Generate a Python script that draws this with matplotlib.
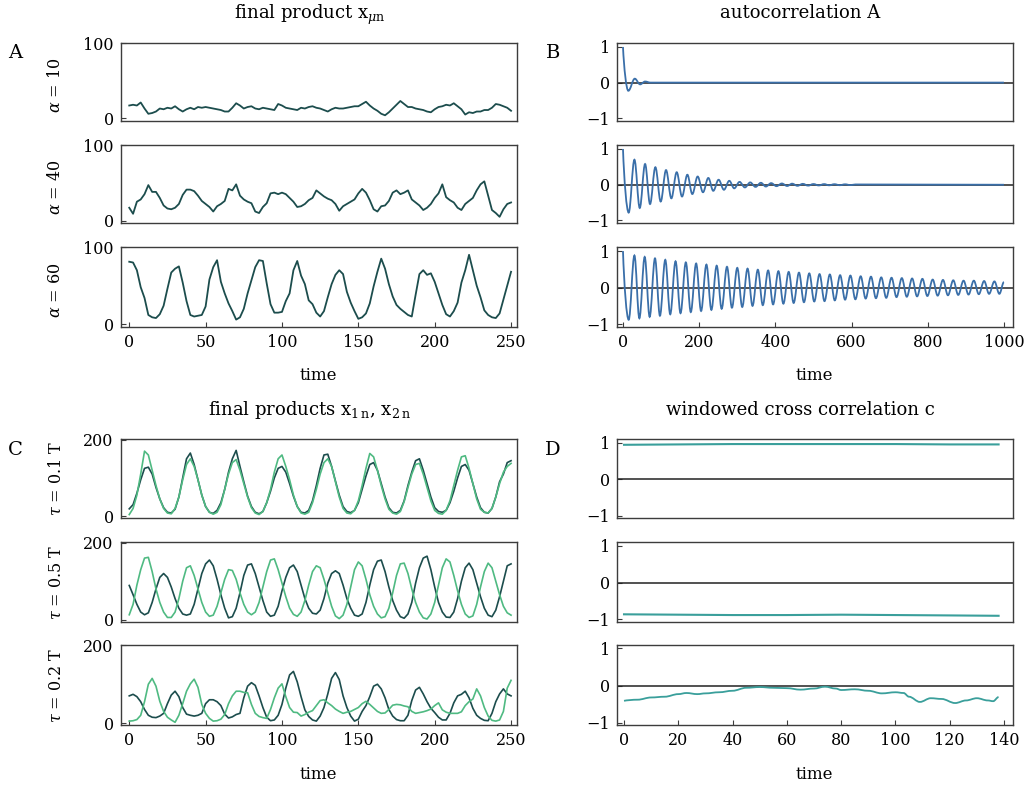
import numpy as np
import matplotlib
matplotlib.use("Agg")
import matplotlib.pyplot as plt
from matplotlib.path import Path
from matplotlib.patches import PathPatch

plt.rcParams['font.family'] = 'DejaVu Serif'
plt.rcParams['mathtext.fontset'] = 'dejavuserif'

# ---------------- data ----------------
t_grid = np.linspace(0, 250, 101)

# final product, three coupling strengths
x_alpha10 = [17, 18, 17, 21, 13, 6, 7, 9, 13, 12,
             14, 13, 16, 12, 9, 12, 14, 12, 15, 14,
             15, 14, 13, 12, 11, 9, 9, 14, 20, 17,
             13, 15, 16, 13, 12, 14, 13, 12, 11, 19,
             17, 14, 13, 12, 11, 14, 13, 15, 16, 14,
             13, 11, 9, 12, 14, 13, 13, 14, 15, 16,
             16, 19, 22, 17, 13, 10, 6, 4, 8, 13,
             18, 23, 19, 15, 15, 13, 12, 11, 9, 8,
             12, 15, 16, 18, 17, 20, 16, 12, 5, 8,
             7, 9, 9, 11, 11, 14, 19, 18, 16, 14,
             10]
x_alpha40 = [17, 9, 25, 28, 35, 47, 38, 38, 30, 20,
             16, 15, 17, 22, 34, 41, 41, 39, 33, 26,
             22, 18, 12, 19, 22, 26, 42, 40, 48, 33,
             28, 25, 23, 12, 10, 18, 23, 36, 37, 35,
             37, 35, 30, 25, 18, 19, 22, 27, 30, 40,
             36, 32, 29, 27, 22, 13, 19, 22, 25, 28,
             36, 42, 37, 27, 15, 12, 19, 20, 26, 37,
             40, 35, 37, 40, 28, 24, 20, 14, 17, 22,
             30, 36, 48, 31, 27, 24, 17, 14, 22, 26,
             30, 40, 48, 52, 33, 14, 10, 5, 15, 22,
             24]
x_alpha60 = [81, 80, 70, 48, 34, 12, 9, 8, 13, 24,
             46, 67, 72, 75, 54, 30, 12, 10, 11, 12,
             23, 58, 74, 83, 55, 40, 27, 17, 6, 9,
             20, 40, 57, 74, 83, 82, 53, 26, 15, 15,
             16, 30, 40, 70, 82, 63, 52, 31, 26, 15,
             10, 17, 35, 52, 64, 70, 65, 42, 28, 17,
             7, 9, 14, 27, 49, 68, 85, 72, 52, 36,
             25, 20, 16, 12, 10, 38, 65, 70, 64, 66,
             55, 40, 25, 13, 10, 17, 28, 54, 70, 90,
             70, 50, 35, 18, 12, 9, 8, 14, 32, 50,
             68]

# autocorrelation extrema (lag, value)
ac10_t = [0, 14, 31, 45, 58, 72, 1000]
ac10_v = [1.0, -0.23, 0.11, -0.05, 0.03, 0.0, 0.0]
ac40_t = [0, 15, 30, 44, 58, 71, 85, 99, 113, 127, 141, 155, 169, 182, 196,
          210, 224, 237, 251, 265, 279, 292, 306, 320, 334, 348, 362, 375,
          389, 403, 417, 431, 444, 458, 472, 486, 500, 514, 528, 541, 555,
          569, 583, 597, 610, 1000]
ac40_v = [1.0, -0.78, 0.70, -0.65, 0.58, -0.54, 0.49, -0.47, 0.41, -0.38,
          0.35, -0.33, 0.28, -0.26, 0.23, -0.21, 0.19, -0.17, 0.14, -0.14,
          0.11, -0.10, 0.08, -0.075, 0.065, -0.06, 0.055, -0.05, 0.045,
          -0.04, 0.035, -0.035, 0.03, -0.03, 0.025, -0.025, 0.02, -0.02,
          0.018, -0.016, 0.015, -0.013, 0.012, -0.01, 0.008, 0.0]
ac60_t = [0, 15, 30, 43, 57, 70, 84, 97, 111, 124, 138, 151, 165, 178, 192,
          205, 219, 232, 246, 259, 273, 286, 300, 313, 327, 340, 354, 367,
          381, 394, 408, 421, 435, 448, 462, 475, 489, 502, 516, 529, 543,
          556, 570, 583, 597, 610, 624, 637, 651, 664, 678, 691, 705, 718,
          732, 745, 759, 772, 786, 799, 813, 826, 840, 853, 867, 880, 894,
          907, 921, 934, 948, 961, 975, 988, 1000]
ac60_v = [1.0, -0.88, 0.88, -0.84, 0.84, -0.80, 0.80, -0.77, 0.76, -0.73,
          0.72, -0.70, 0.69, -0.67, 0.66, -0.64, 0.63, -0.61, 0.60, -0.58,
          0.57, -0.55, 0.54, -0.53, 0.52, -0.50, 0.49, -0.48, 0.47, -0.46,
          0.45, -0.44, 0.43, -0.42, 0.41, -0.40, 0.39, -0.38, 0.37, -0.37,
          0.36, -0.35, 0.34, -0.33, 0.33, -0.32, 0.31, -0.30, 0.30, -0.29,
          0.28, -0.28, 0.27, -0.26, 0.26, -0.25, 0.25, -0.24, 0.24, -0.23,
          0.22, -0.22, 0.21, -0.21, 0.20, -0.20, 0.19, -0.19, 0.19, -0.18,
          0.18, -0.17, 0.17, -0.17, 0.15]

# two final products for three delays
x1_tau01 = [19, 30, 60, 95, 125, 128, 110, 75, 45, 22,
            10, 8, 18, 50, 100, 150, 165, 135, 95, 55,
            25, 10, 7, 15, 35, 70, 115, 150, 172, 130,
            90, 52, 25, 10, 6, 12, 35, 65, 100, 125,
            130, 115, 85, 52, 25, 10, 8, 15, 40, 80,
            125, 160, 162, 130, 92, 55, 25, 12, 9, 15,
            35, 70, 105, 135, 140, 120, 85, 50, 22, 10,
            8, 15, 40, 80, 115, 145, 150, 120, 85, 50,
            22, 12, 10, 15, 35, 65, 100, 130, 135, 120,
            85, 50, 22, 10, 8, 20, 50, 90, 110, 140,
            145]
x2_tau01 = [4, 20, 55, 110, 170, 160, 120, 80, 45, 20,
            8, 6, 20, 50, 95, 135, 150, 130, 95, 55,
            25, 10, 5, 10, 30, 70, 110, 140, 148, 120,
            85, 50, 22, 8, 4, 12, 35, 70, 115, 150,
            160, 130, 95, 55, 25, 8, 5, 10, 35, 70,
            110, 140, 150, 130, 90, 50, 20, 8, 6, 15,
            40, 80, 125, 164, 155, 120, 80, 45, 18, 8,
            5, 12, 38, 75, 110, 135, 138, 110, 75, 40,
            15, 7, 5, 15, 40, 80, 120, 155, 158, 125,
            85, 45, 18, 10, 8, 20, 50, 85, 115, 130,
            138]
x1_tau05 = [89, 65, 40, 20, 13, 18, 45, 80, 110, 120,
            110, 85, 55, 30, 15, 12, 15, 40, 80, 120,
            145, 155, 140, 105, 65, 30, 5, 8, 30, 70,
            115, 142, 145, 120, 85, 50, 20, 9, 12, 35,
            75, 110, 135, 142, 125, 90, 55, 30, 17, 15,
            25, 55, 95, 120, 127, 120, 90, 55, 30, 12,
            9, 15, 45, 90, 130, 152, 155, 125, 85, 50,
            25, 8, 4, 15, 45, 95, 135, 160, 165, 130,
            85, 45, 20, 7, 6, 20, 55, 100, 135, 147,
            130, 95, 60, 30, 12, 8, 25, 60, 100, 140,
            145]
x2_tau05 = [13, 40, 90, 130, 160, 162, 125, 80, 45, 20,
            6, 6, 20, 55, 100, 135, 140, 115, 80, 45,
            20, 9, 12, 35, 70, 105, 130, 128, 105, 70,
            40, 20, 13, 20, 45, 85, 125, 155, 158, 130,
            95, 60, 30, 14, 9, 20, 50, 90, 125, 140,
            135, 105, 70, 35, 10, 3, 12, 40, 85, 130,
            150, 140, 105, 65, 35, 15, 5, 8, 30, 70,
            115, 145, 147, 120, 80, 45, 20, 5, 2, 15,
            45, 90, 135, 158, 150, 115, 75, 40, 15, 6,
            10, 40, 85, 125, 147, 135, 100, 65, 35, 18,
            12]
x1_tau02 = [70, 74, 68, 55, 35, 20, 15, 14, 18, 25,
            50, 72, 82, 68, 40, 23, 20, 18, 20, 25,
            50, 60, 60, 55, 45, 23, 13, 16, 22, 25,
            65, 95, 104, 97, 70, 40, 15, 6, 8, 20,
            48, 90, 124, 133, 106, 68, 34, 17, 8, 5,
            18, 40, 75, 115, 130, 112, 70, 40, 18, 5,
            10, 30, 45, 68, 95, 100, 88, 65, 35, 18,
            9, 6, 6, 20, 58, 85, 92, 75, 55, 38,
            27, 15, 8, 8, 25, 52, 70, 74, 82, 65,
            38, 20, 12, 7, 6, 25, 55, 75, 88, 75,
            70]
x2_tau02 = [5, 6, 9, 20, 55, 100, 115, 95, 56, 30,
            15, 8, 2, 20, 50, 82, 101, 113, 92, 48,
            25, 12, 5, 6, 10, 22, 50, 70, 82, 82,
            79, 78, 48, 25, 17, 14, 12, 35, 65, 90,
            101, 68, 40, 28, 27, 18, 22, 28, 32, 45,
            58, 60, 52, 45, 36, 30, 25, 28, 30, 35,
            40, 50, 56, 48, 39, 30, 25, 26, 35, 46,
            48, 47, 44, 42, 30, 25, 27, 29, 32, 36,
            45, 52, 34, 28, 25, 25, 25, 29, 45, 55,
            62, 88, 70, 40, 18, 7, 5, 8, 30, 90,
            110]

# windowed cross correlation
cc_t_flat = [0, 20, 40, 60, 80, 100, 120, 138]
cc_tau01 = [0.94, 0.95, 0.96, 0.96, 0.96, 0.96, 0.95, 0.95]
cc_tau05 = [-0.86, -0.87, -0.88, -0.88, -0.87, -0.88, -0.89, -0.90]
cc_t = [0, 5, 10, 15, 20, 23, 27, 30, 35, 40, 45, 50, 55, 60, 65, 70, 74,
        78, 80, 85, 90, 95, 100, 103, 105, 109, 113, 117, 122, 126, 130,
        134, 136, 138]
cc_tau02 = [-0.41, -0.38, -0.32, -0.30, -0.23, -0.20, -0.23, -0.21, -0.18,
            -0.14, -0.06, -0.04, -0.06, -0.07, -0.11, -0.08, -0.03, -0.08,
            -0.12, -0.10, -0.14, -0.21, -0.18, -0.20, -0.30, -0.44, -0.34,
            -0.36, -0.47, -0.40, -0.34, -0.40, -0.42, -0.31]

alpha_labels = [r"$\alpha$ = 10", r"$\alpha$ = 40", r"$\alpha$ = 60"]
tau_labels = [r"$\tau$ = 0.1 T", r"$\tau$ = 0.5 T", r"$\tau$ = 0.2 T"]

DARK = '#1c4d4d'
LIGHT = '#4fba82'
BLUE = '#3a6fa9'
TEAL = '#3a9f9b'
FRAME = '#3c3c3c'

W, H = 1027, 787
fig = plt.figure(figsize=(W / 100, H / 100), dpi=100)


def box(left, top, right, bottom):
    return fig.add_axes([left / W, 1 - bottom / H, (right - left) / W, (bottom - top) / H])


def style(ax, xticks, yticks, bottom_row):
    for s in ax.spines.values():
        s.set_color(FRAME)
        s.set_linewidth(1.0)
    ax.set_yticks(yticks)
    ax.tick_params(direction='in', length=3.5, width=0.8, labelsize=11.5,
                   pad=5, color=FRAME)
    if bottom_row:
        ax.set_xticks(xticks)
        ax.set_xlabel('time', fontsize=12, labelpad=12)
    else:
        ax.set_xticks([])


def smooth(ax, ts, vs, color):
    # cubic segments between extrema, flat tangents at each turning point;
    # the zero-lag point is a cusp, so the first segment leaves along the chord
    verts = [(ts[0], vs[0])]
    codes = [Path.MOVETO]
    for i in range(1, len(ts)):
        dt = ts[i] - ts[i - 1]
        if i == 1:
            c1 = (ts[0] + 0.2 * dt, vs[0] + 0.5 * (vs[1] - vs[0]))
        else:
            c1 = (ts[i - 1] + 0.363 * dt, vs[i - 1])
        verts += [c1, (ts[i] - 0.363 * dt, vs[i]), (ts[i], vs[i])]
        codes += [Path.CURVE4] * 3
    ax.add_patch(PathPatch(Path(verts, codes), fill=False, edgecolor=color,
                           lw=1.3, zorder=3))


rows_top = [(42.7, 120.7), (144.7, 223.0), (246.7, 326.7)]
rows_bot = [(439.3, 518.0), (542.3, 621.7), (645.0, 725.0)]
LX = (120.7, 516.7)
RX = (616.7, 1012.7)

# panel A
for i, (ys, lab) in enumerate(zip([x_alpha10, x_alpha40, x_alpha60], alpha_labels)):
    top, bot = rows_top[i]
    ax = box(LX[0], top, LX[1], bot)
    ax.plot(t_grid, ys, color=DARK, lw=1.3)
    ax.set_xlim(-5.6, 253.7)
    ax.set_ylim(-3.2, 100.5)
    style(ax, [0, 50, 100, 150, 200, 250], [0, 100], i == 2)
    fig.text(56 / W, 1 - ((top + bot) / 2 + 3) / H, lab, rotation=90,
             ha='center', va='center', fontsize=11.5)

# panel B
for i, (ts, vs) in enumerate([(ac10_t, ac10_v), (ac40_t, ac40_v), (ac60_t, ac60_v)]):
    top, bot = rows_top[i]
    ax = box(RX[0], top, RX[1], bot)
    ax.axhline(0, color='#222222', lw=1.1, zorder=2)
    smooth(ax, ts, vs, BLUE)
    ax.set_xlim(-16.5, 1023)
    ax.set_ylim(-1.07, 1.12)
    style(ax, [0, 200, 400, 600, 800, 1000], [-1, 0, 1], i == 2)

# panel C
pairs = [(x1_tau01, x2_tau01), (x1_tau05, x2_tau05), (x1_tau02, x2_tau02)]
for i, ((a, b), lab) in enumerate(zip(pairs, tau_labels)):
    top, bot = rows_bot[i]
    ax = box(LX[0], top, LX[1], bot)
    ax.plot(t_grid, a, color=DARK, lw=1.2)
    ax.plot(t_grid, b, color=LIGHT, lw=1.2)
    ax.set_xlim(-5.6, 253.7)
    ax.set_ylim(-5, 201)
    style(ax, [0, 50, 100, 150, 200, 250], [0, 200], i == 2)
    fig.text(56 / W, 1 - (top + bot) / 2 / H, lab, rotation=90,
             ha='center', va='center', fontsize=11.5)

# panel D
for i, (ts, vs) in enumerate([(cc_t_flat, cc_tau01), (cc_t_flat, cc_tau05), (cc_t, cc_tau02)]):
    top, bot = rows_bot[i]
    ax = box(RX[0], top, RX[1], bot)
    ax.axhline(0, color='#222222', lw=1.1, zorder=2)
    if i == 2:
        smooth(ax, ts, vs, TEAL)
    else:
        ax.plot(ts, vs, color=TEAL, lw=1.5, zorder=3)
    ax.set_xlim(-2.7, 143.2)
    ax.set_ylim(-1.06, 1.09)
    style(ax, [0, 20, 40, 60, 80, 100, 120, 140], [-1, 0, 1], i == 2)

# titles and panel letters
fig.text(310 / W, 1 - 15 / H, r"final product x$_{\mu\mathrm{n}}$", ha='center', va='center', fontsize=13)
fig.text(800 / W, 1 - 13 / H, "autocorrelation A", ha='center', va='center', fontsize=13)
fig.text(310 / W, 1 - 410 / H, r"final products x$_{1\,\mathrm{n}}$, x$_{2\,\mathrm{n}}$",
         ha='center', va='center', fontsize=13)
fig.text(800 / W, 1 - 410 / H, "windowed cross correlation c", ha='center', va='center', fontsize=13)
for letter, x, y in [('A', 15, 53), ('B', 553, 53), ('C', 15, 450), ('D', 553, 450)]:
    fig.text(x / W, 1 - y / H, letter, ha='center', va='center', fontsize=14)

fig.savefig('out.png', dpi=100)
